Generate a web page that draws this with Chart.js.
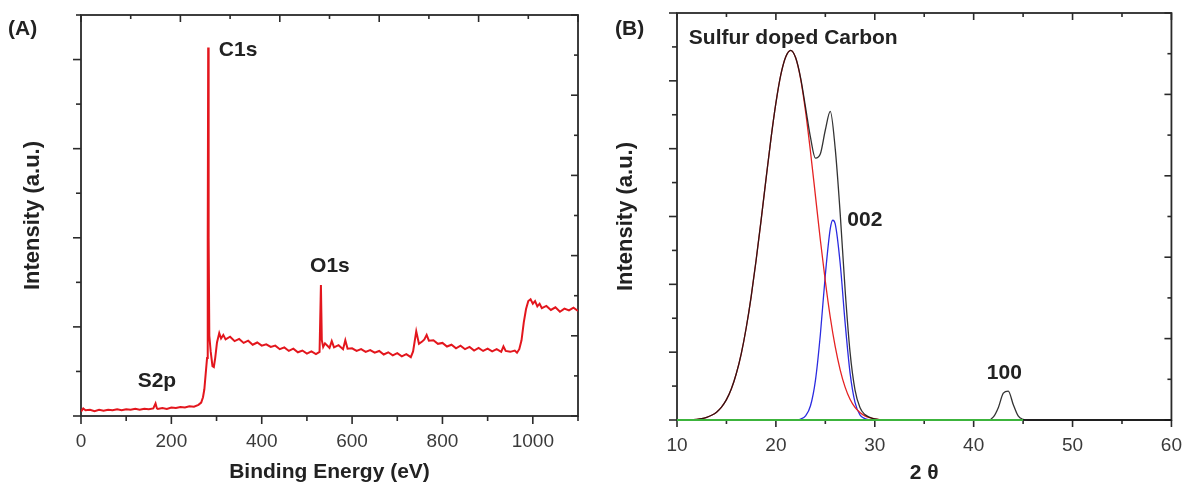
<!DOCTYPE html>
<html>
<head>
<meta charset="utf-8">
<script src="https://cdn.jsdelivr.net/npm/chart.js@4.4.1/dist/chart.umd.min.js"></script>
<style>
  body { margin: 0; background: #fff; }
  #wrap { position: relative; width: 1196px; height: 491px; background: #fff; }
  .panel { position: absolute; top: 0; }
  #panelA { left: 0; }
  #panelB { left: 600px; }
</style>
</head>
<body>
<div id="wrap">
  <div class="panel" id="panelA"><canvas id="xps" width="600" height="491"></canvas></div>
  <div class="panel" id="panelB"><canvas id="xrd" width="596" height="491"></canvas></div>
</div>
<script>
const FONT = "'Liberation Sans', Arial, sans-serif";
const INK = '#222';

// (A) XPS survey spectrum, intensity in arbitrary units
const bindingEnergy = [0, 5, 10, 20, 30, 40, 50, 60, 70, 80, 90, 100, 110, 120, 130, 140, 150, 160, 165, 168, 170,
  180, 190, 200, 210, 220, 230, 240, 250, 260, 266, 270, 273, 276, 279, 280.5, 281.5, 282.5, 284, 287, 291, 294, 297,
  301, 306, 310, 315, 320, 330, 340, 350, 360, 370, 380, 390, 400, 410, 420, 430, 440, 450, 460, 470, 480, 490, 500,
  510, 520, 528, 531, 533, 536, 540, 550, 555, 560, 570, 580, 585, 590, 600, 610, 620, 630, 640, 650, 660, 670, 680,
  690, 700, 710, 720, 730, 735, 742, 748, 755, 760, 765, 770, 780, 790, 800, 810, 820, 830, 840, 850, 860, 870, 880,
  890, 900, 910, 920, 930, 935, 940, 950, 960, 965, 970, 975, 980, 985, 990, 995, 1000, 1005, 1010, 1015, 1020, 1030,
  1040, 1050, 1060, 1070, 1080, 1090, 1100];
const xpsIntensity = [0.10, 0.17, 0.13, 0.14, 0.11, 0.14, 0.12, 0.14, 0.13, 0.15, 0.13, 0.15, 0.14, 0.16, 0.14, 0.16,
  0.15, 0.17, 0.28, 0.17, 0.16, 0.18, 0.16, 0.19, 0.18, 0.20, 0.19, 0.22, 0.21, 0.25, 0.30, 0.42, 0.60, 0.95, 1.30, 4.00,
  8.27, 4.00, 1.80, 1.45, 1.12, 1.10, 1.30, 1.65, 1.86, 1.74, 1.82, 1.72, 1.78, 1.68, 1.73, 1.64, 1.69, 1.60, 1.65, 1.58,
  1.61, 1.55, 1.58, 1.50, 1.54, 1.46, 1.51, 1.43, 1.47, 1.40, 1.45, 1.39, 1.44, 2.94, 1.70, 1.55, 1.63, 1.53, 1.68, 1.54,
  1.59, 1.50, 1.70, 1.51, 1.52, 1.46, 1.50, 1.44, 1.48, 1.42, 1.46, 1.38, 1.43, 1.36, 1.41, 1.34, 1.39, 1.32, 1.45, 1.90,
  1.62, 1.67, 1.72, 1.82, 1.69, 1.70, 1.62, 1.64, 1.56, 1.60, 1.52, 1.58, 1.50, 1.55, 1.47, 1.53, 1.46, 1.51, 1.45, 1.50,
  1.44, 1.56, 1.46, 1.44, 1.47, 1.42, 1.50, 1.70, 2.10, 2.40, 2.58, 2.62, 2.52, 2.58, 2.46, 2.52, 2.42, 2.47, 2.38, 2.44,
  2.34, 2.41, 2.37, 2.43, 2.36, 2.44];
const xpsPeakNames = ['S2p', 'C1s', 'O1s'];
const xpsPeakAt = [[168, 0.78], [305, 8.2], [551, 3.36]];

// (B) XRD pattern with the fitted components
const twoTheta = [10, 11, 11.5, 12, 12.5, 13, 13.5, 14, 14.5, 15, 15.5, 16, 16.5, 17, 17.5, 18, 18.5, 19, 19.5, 20,
  20.5, 21, 21.5, 22, 22.5, 23, 23.5, 24, 24.5, 25, 25.5, 26, 26.5, 27, 27.5, 28, 28.5, 29, 29.5, 30, 30.5, 31,
  41.5, 42, 42.5, 43, 43.5, 44, 44.5, 45, 45.5, 60];
const measured = [0, 0, 0.01, 0.02, 0.04, 0.08, 0.14, 0.23, 0.38, 0.60, 0.92, 1.37, 1.96, 2.72, 3.64, 4.71, 5.88, 7.10,
  8.29, 9.34, 10.18, 10.71, 10.90, 10.68, 10.09, 9.22, 8.33, 7.72, 7.85, 8.55, 9.10, 8.00, 6.10, 3.84, 2.00, 0.89, 0.37,
  0.16, 0.08, 0.03, 0.01, 0, 0, 0.09, 0.37, 0.79, 0.85, 0.46, 0.12, 0.02, 0, 0];
const broadTheta = [10, 11, 11.5, 12, 12.5, 13, 13.5, 14, 14.5, 15, 15.5, 16, 16.5, 17, 17.5, 18, 18.5, 19, 19.5, 20,
  20.5, 21, 21.5, 22, 22.5, 23, 23.5, 24, 24.5, 25, 25.5, 26, 26.5, 27, 27.5, 28, 28.5, 29, 29.5, 30, 30.5, 31];
const broadPeak = [0, 0, 0.01, 0.02, 0.04, 0.08, 0.14, 0.23, 0.38, 0.60, 0.92, 1.37, 1.96, 2.72, 3.64, 4.71, 5.88, 7.10,
  8.29, 9.34, 10.18, 10.71, 10.90, 10.68, 10.06, 9.10, 7.91, 6.61, 5.30, 4.09, 3.03, 2.16, 1.48, 0.97, 0.61, 0.37, 0.22,
  0.12, 0.07, 0.03, 0.01, 0];
const peak002Theta = [22, 22.5, 23, 23.5, 24, 24.5, 25, 25.5, 25.75, 26, 26.5, 27, 27.5, 28, 28.5, 29, 29.5];
const peak002 = [0, 0.03, 0.12, 0.42, 1.17, 2.53, 4.28, 5.64, 5.89, 5.78, 4.62, 2.87, 1.39, 0.52, 0.15, 0.04, 0];
const baseTheta = [10, 45];
const baseLevel = [0, 0];
const xrdPeakNames = ['Sulfur doped Carbon', '002', '100'];
const xrdPeakAt = [[11.2, 11.27], [29.0, 5.9], [43.1, 1.39]];

const pts = (xs, ys) => xs.map((x, i) => ({ x: x, y: ys[i] }));

// box frame plus hand-drawn tick marks (in/out, major/minor)
const frameTicks = {
  id: 'frameTicks',
  beforeDatasetsDraw(chart, args, o) {
    const { ctx, chartArea: a } = chart;
    ctx.save();
    ctx.strokeStyle = '#2a2a2a';
    ctx.lineWidth = 1.8;
    ctx.strokeRect(a.left, a.top, a.right - a.left, a.bottom - a.top);
    ctx.lineWidth = 1.6;
    o.marks.forEach(m => {
      const s = chart.scales[m.scale];
      const n = Math.round((m.to - m.from) / m.step);
      for (let i = 0; i <= n; i++) {
        const v = m.from + i * m.step;
        const len = i % 2 === 0 ? m.major : m.minor;
        const p = s.getPixelForValue(v);
        ctx.beginPath();
        if (m.side === 'bottom') {
          ctx.moveTo(p, a.bottom); ctx.lineTo(p, a.bottom + (m.out ? len : -len));
        } else if (m.side === 'top') {
          ctx.moveTo(p, a.top); ctx.lineTo(p, a.top + (m.out ? -len : len));
        } else if (m.side === 'left') {
          ctx.moveTo(a.left, p); ctx.lineTo(a.left + (m.out ? -len : len), p);
        } else {
          ctx.moveTo(a.right, p); ctx.lineTo(a.right + (m.out ? len : -len), p);
        }
        ctx.stroke();
      }
    });
    ctx.restore();
  }
};

// bold peak names and panel letter
const peakLabels = {
  id: 'peakLabels',
  afterDatasetsDraw(chart, args, o) {
    const { ctx, scales: { x, y } } = chart;
    ctx.save();
    ctx.fillStyle = INK;
    ctx.textBaseline = 'middle';
    ctx.font = 'bold 21px ' + FONT;
    o.names.forEach((t, i) => {
      ctx.textAlign = (o.align && o.align[i]) || 'center';
      ctx.fillText(t, x.getPixelForValue(o.at[i][0]), y.getPixelForValue(o.at[i][1]));
    });
    ctx.textAlign = 'left';
    ctx.fillText(o.panel, o.panelX, 29);
    ctx.restore();
  }
};

function xAxis(min, max, step, labelEvery, title, height, tpad) {
  return {
    type: 'linear', min: min, max: max,
    grid: { display: false, drawTicks: false }, border: { display: false },
    ticks: {
      stepSize: step, autoSkip: false, maxRotation: 0, padding: 14, color: '#3a3a3a',
      font: { family: FONT, size: 19 },
      callback: v => ((v - min) % labelEvery === 0 ? v : '')
    },
    title: { display: true, text: title, color: INK, font: { family: FONT, size: 21, weight: 'bold' },
      padding: { top: 0, bottom: tpad } },
    afterFit: s => { s.height = height; }
  };
}

function yAxis(max, width, tpad) {
  return {
    min: 0, max: max,
    grid: { display: false, drawTicks: false }, border: { display: false },
    ticks: { display: false, stepSize: 1 },
    title: { display: true, text: 'Intensity (a.u.)', color: INK, font: { family: FONT, size: 22, weight: 'bold' },
      padding: { top: tpad, bottom: 0 } },
    afterFit: s => { s.width = width; }
  };
}

new Chart(document.getElementById('xps'), {
  type: 'line',
  data: {
    datasets: [{
      data: pts(bindingEnergy, xpsIntensity),
      borderColor: '#e3161d', borderWidth: 2, pointRadius: 0, tension: 0
    }]
  },
  options: {
    responsive: false, animation: false, events: [],
    layout: { padding: { top: 15, right: 22, left: 0, bottom: 0 } },
    plugins: {
      legend: { display: false }, tooltip: { enabled: false },
      frameTicks: {
        marks: [
          { scale: 'x', side: 'bottom', from: 0, to: 1100, step: 100, out: true, major: 8, minor: 5 },
          { scale: 'x', side: 'top', from: 0, to: 1100, step: 110, out: false, major: 7, minor: 4 },
          { scale: 'y', side: 'left', from: 0, to: 9, step: 1, out: true, major: 8, minor: 5 },
          { scale: 'yR', side: 'right', from: 0, to: 10, step: 1, out: false, major: 7, minor: 4 }
        ]
      },
      peakLabels: { names: xpsPeakNames, at: xpsPeakAt, align: ['center', 'left', 'center'], panel: '(A)', panelX: 8 }
    },
    scales: {
      x: xAxis(0, 1100, 100, 200, 'Binding Energy (eV)', 75, 6),
      y: yAxis(9, 81, 20),
      yR: { position: 'right', min: 0, max: 10, display: false }
    }
  },
  plugins: [frameTicks, peakLabels]
});

const fitLine = { pointRadius: 0, borderWidth: 1.3, cubicInterpolationMode: 'monotone', clip: 5 };

new Chart(document.getElementById('xrd'), {
  type: 'line',
  data: {
    datasets: [
      Object.assign({ data: pts(baseTheta, baseLevel), borderColor: '#3cb43c', borderWidth: 2.2 }, { pointRadius: 0, clip: 5 }),
      Object.assign({}, fitLine, { data: pts(twoTheta, measured), borderColor: 'rgba(15,15,15,0.85)' }),
      Object.assign({}, fitLine, { data: pts(broadTheta, broadPeak), borderColor: '#e52222' }),
      Object.assign({}, fitLine, { data: pts(peak002Theta, peak002), borderColor: '#2b2be0' })
    ]
  },
  options: {
    responsive: false, animation: false, events: [],
    layout: { padding: { top: 13, right: 16, left: 0, bottom: 0 } },
    plugins: {
      legend: { display: false }, tooltip: { enabled: false },
      frameTicks: {
        marks: [
          { scale: 'x', side: 'bottom', from: 10, to: 60, step: 5, out: true, major: 7, minor: 4 },
          { scale: 'x', side: 'top', from: 10, to: 60, step: 5, out: false, major: 7, minor: 4 },
          { scale: 'y', side: 'left', from: 0, to: 12, step: 1, out: true, major: 8, minor: 5 },
          { scale: 'yR', side: 'right', from: 0, to: 10, step: 1, out: false, major: 7, minor: 4 }
        ]
      },
      peakLabels: { names: xrdPeakNames, at: xrdPeakAt, align: ['left', 'center', 'center'], panel: '(B)', panelX: 15 }
    },
    scales: {
      x: xAxis(10, 60, 5, 10, '2 θ', 71, 5),
      y: yAxis(12, 77, 13),
      yR: { position: 'right', min: 0, max: 10, display: false }
    }
  },
  plugins: [frameTicks, peakLabels]
});
</script>
</body>
</html>
